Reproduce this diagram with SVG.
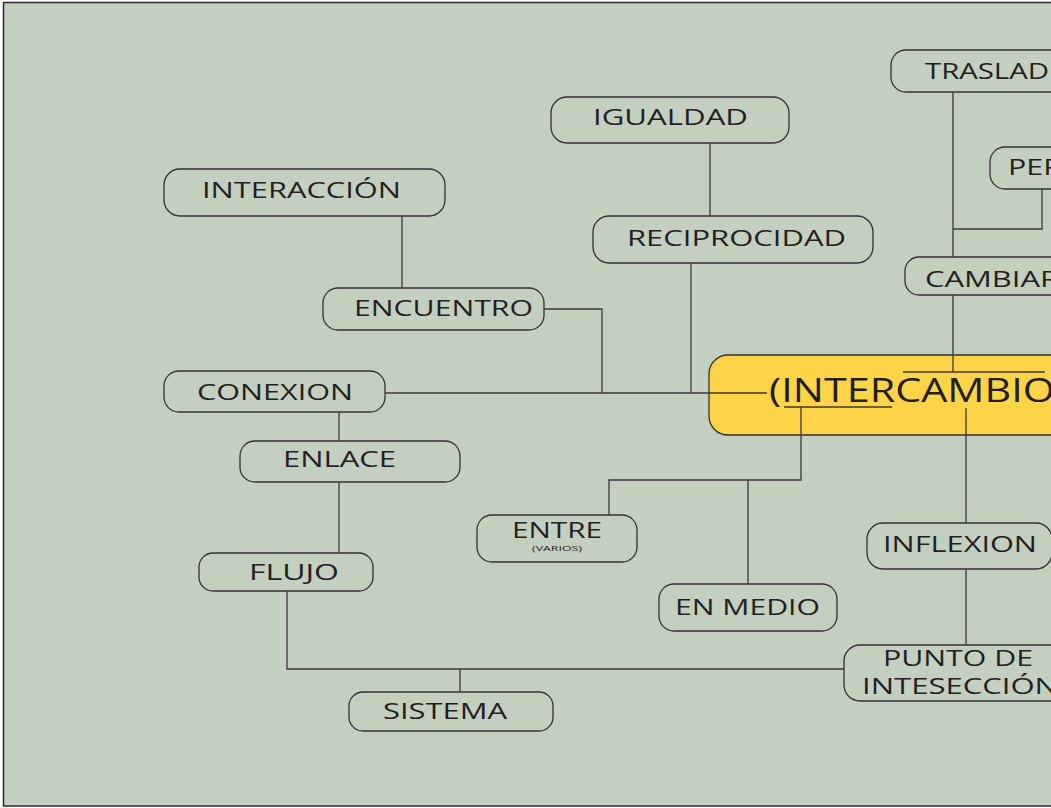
<svg xmlns="http://www.w3.org/2000/svg" width="1051" height="808" viewBox="0 0 1051 808">
<style>
.bg{fill:#c3cfbf;stroke:#2a2a2a;stroke-width:1.5}
.box{fill:#c3cfbf;stroke:#333;stroke-width:1.3}
.main{fill:#fdd348;stroke:#333;stroke-width:1.3}
.t{font-family:"Open Sans","Liberation Sans",sans-serif;font-size:22px;fill:#231f20}
.s{font-family:"Open Sans","Liberation Sans",sans-serif;font-size:8px;fill:#231f20}
.big{font-family:"Open Sans","Liberation Sans",sans-serif;font-size:32px;fill:#231f20}
.c{fill:none;stroke:#3a3a3a;stroke-width:1.3}
</style>
<rect x="0" y="0" width="1051" height="808" fill="#ffffff"/>
<rect class="bg" x="3.5" y="2.5" width="1060" height="803.5"/>
<g id="n-interaccion"><rect class="box" x="164" y="169" width="281" height="47" rx="16"/><text class="t" x="202" y="198" textLength="199" lengthAdjust="spacingAndGlyphs">INTERACCIÓN</text></g>
<g id="n-encuentro"><rect class="box" x="323" y="288" width="221" height="42" rx="15"/><text class="t" x="354" y="316" textLength="179" lengthAdjust="spacingAndGlyphs">ENCUENTRO</text></g>
<g id="n-igualdad"><rect class="box" x="551" y="97" width="238" height="46" rx="16"/><text class="t" x="593" y="125" textLength="155" lengthAdjust="spacingAndGlyphs">IGUALDAD</text></g>
<g id="n-reciprocidad"><rect class="box" x="593" y="216" width="280" height="47" rx="16"/><text class="t" x="627" y="246" textLength="219" lengthAdjust="spacingAndGlyphs">RECIPROCIDAD</text></g>
<g id="n-conexion"><rect class="box" x="164" y="371" width="221" height="41" rx="15"/><text class="t" x="197" y="400" textLength="156" lengthAdjust="spacingAndGlyphs">CONEXION</text></g>
<g id="n-enlace"><rect class="box" x="240" y="441" width="220" height="41" rx="15"/><text class="t" x="283" y="467" textLength="113" lengthAdjust="spacingAndGlyphs">ENLACE</text></g>
<g id="n-flujo"><rect class="box" x="199" y="553" width="174" height="38" rx="14"/><text class="t" x="249" y="580" textLength="90" lengthAdjust="spacingAndGlyphs">FLUJO</text></g>
<g id="n-sistema"><rect class="box" x="349" y="692" width="204" height="39" rx="14"/><text class="t" x="383" y="719" textLength="124" lengthAdjust="spacingAndGlyphs">SISTEMA</text></g>
<g id="n-entre"><rect class="box" x="477" y="515" width="160" height="47" rx="15"/><text class="t" x="512" y="538" font-size="21" textLength="90" lengthAdjust="spacingAndGlyphs">ENTRE</text><text class="s" x="532" y="551" textLength="50" lengthAdjust="spacingAndGlyphs">(VARIOS)</text></g>
<g id="n-enmedio"><rect class="box" x="659" y="584" width="178" height="47" rx="15"/><text class="t" x="675" y="615" textLength="145" lengthAdjust="spacingAndGlyphs">EN MEDIO</text></g>
<g id="n-intercambio"><rect class="main" x="709" y="355" width="400" height="80" rx="19"/><text class="big" x="769" y="402" textLength="286" lengthAdjust="spacingAndGlyphs">(INTERCAMBIO</text></g>
<g id="n-traslad"><rect class="box" x="891" y="50" width="200" height="42" rx="15"/><text class="t" x="925" y="79" textLength="124" lengthAdjust="spacingAndGlyphs">TRASLAD</text></g>
<g id="n-per"><rect class="box" x="990" y="147" width="100" height="42" rx="15"/><text class="t" x="1008" y="175" textLength="54" lengthAdjust="spacingAndGlyphs">PER</text></g>
<g id="n-cambiar"><rect class="box" x="905" y="257" width="200" height="38" rx="14"/><text class="t" x="925" y="287" textLength="134" lengthAdjust="spacingAndGlyphs">CAMBIAR</text></g>
<g id="n-inflexion"><rect class="box" x="867" y="523" width="185" height="46" rx="16"/><text class="t" x="883" y="552" textLength="154" lengthAdjust="spacingAndGlyphs">INFLEXION</text></g>
<g id="n-punto"><rect class="box" x="844" y="645" width="260" height="56" rx="16"/><text class="t" x="883" y="666" font-size="21" textLength="150" lengthAdjust="spacingAndGlyphs">PUNTO DE</text><text class="t" x="862" y="694" font-size="21" textLength="196" lengthAdjust="spacingAndGlyphs">INTESECCIÓN</text></g>
<g id="connectors">
<path class="c" d="M710 143V216"/>
<path class="c" d="M402 216V288"/>
<path class="c" d="M544 309H602V393"/>
<path class="c" d="M691 263V393"/>
<path class="c" d="M385 393H767"/>
<path class="c" d="M339 412V441"/>
<path class="c" d="M339 482V553"/>
<path class="c" d="M287 591V669H844"/>
<path class="c" d="M460 669V692"/>
<path class="c" d="M801 407V480H609V515"/>
<path class="c" d="M748 480V584"/>
<path class="c" d="M966 408V523"/>
<path class="c" d="M966 569V645"/>
<path class="c" d="M953 92V257"/>
<path class="c" d="M953 229H1042V189"/>
<path class="c" d="M953 295V372"/>
<path class="c" d="M784 407H892"/>
<path class="c" d="M903 372H1045"/>
</g>
</svg>
